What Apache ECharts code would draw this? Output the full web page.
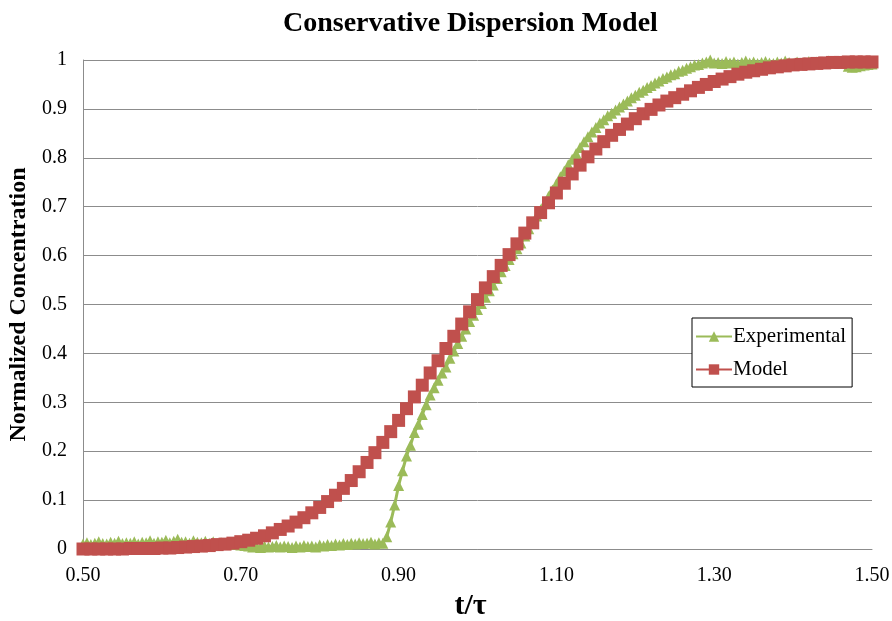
<!DOCTYPE html>
<html>
<head>
<meta charset="utf-8">
<script src="https://cdn.jsdelivr.net/npm/echarts@6/dist/echarts.min.js"></script>
<style>
html,body{margin:0;padding:0;background:#fff;}
#chart{width:892px;height:621px;}
</style>
</head>
<body>
<div id="chart"></div>
<script>
var titleText = 'Conservative Dispersion Model';
var xName = 't/\u03c4';
var yName = 'Normalized Concentration';
var seriesNames = ['Experimental', 'Model'];
var xTicks = [0.50, 0.70, 0.90, 1.10, 1.30, 1.50];
var yTicks = [0, 0.1, 0.2, 0.3, 0.4, 0.5, 0.6, 0.7, 0.8, 0.9, 1];

var modelTime = [
0.50,0.51,0.52,0.53,0.54,0.55,0.56,0.57,0.58,0.59,
0.60,0.61,0.62,0.63,0.64,0.65,0.66,0.67,0.68,0.69,
0.70,0.71,0.72,0.73,0.74,0.75,0.76,0.77,0.78,0.79,
0.80,0.81,0.82,0.83,0.84,0.85,0.86,0.87,0.88,0.89,
0.90,0.91,0.92,0.93,0.94,0.95,0.96,0.97,0.98,0.99,
1.00,1.01,1.02,1.03,1.04,1.05,1.06,1.07,1.08,1.09,
1.10,1.11,1.12,1.13,1.14,1.15,1.16,1.17,1.18,1.19,
1.20,1.21,1.22,1.23,1.24,1.25,1.26,1.27,1.28,1.29,
1.30,1.31,1.32,1.33,1.34,1.35,1.36,1.37,1.38,1.39,
1.40,1.41,1.42,1.43,1.44,1.45,1.46,1.47,1.48,1.49,
1.50];
var modelConc = [
0.000,0.000,0.000,0.000,0.000,0.000,0.001,0.001,0.001,0.001,
0.002,0.002,0.003,0.004,0.005,0.006,0.007,0.009,0.010,0.012,
0.015,0.018,0.022,0.027,0.033,0.040,0.047,0.055,0.064,0.074,
0.085,0.097,0.110,0.124,0.140,0.158,0.177,0.197,0.218,0.240,
0.263,0.287,0.311,0.335,0.360,0.385,0.410,0.435,0.460,0.485,
0.510,0.534,0.557,0.580,0.602,0.624,0.646,0.667,0.688,0.708,
0.728,0.748,0.767,0.785,0.802,0.818,0.833,0.846,0.858,0.869,
0.880,0.890,0.899,0.908,0.916,0.923,0.930,0.937,0.944,0.950,
0.956,0.961,0.966,0.971,0.975,0.978,0.981,0.984,0.986,0.988,
0.990,0.991,0.992,0.993,0.994,0.995,0.995,0.996,0.996,0.996,
0.996];

var expTime = [
0.500,0.505,0.510,0.515,0.520,0.525,0.530,0.535,0.540,0.545,
0.550,0.555,0.560,0.565,0.570,0.575,0.580,0.585,0.590,0.595,
0.600,0.605,0.610,0.615,0.620,0.625,0.630,0.635,0.640,0.645,
0.650,0.655,0.660,0.665,0.670,0.675,0.680,0.685,0.690,0.695,
0.700,0.705,0.710,0.715,0.720,0.725,0.730,0.735,0.740,0.745,
0.750,0.755,0.760,0.765,0.770,0.775,0.780,0.785,0.790,0.795,
0.800,0.805,0.810,0.815,0.820,0.825,0.830,0.835,0.840,0.845,
0.850,0.855,0.860,0.865,0.870,0.875,0.880,0.885,0.890,0.895,
0.900,0.905,0.910,0.915,0.920,0.925,0.930,0.935,0.940,0.945,
0.950,0.955,0.960,0.965,0.970,0.975,0.980,0.985,0.990,0.995,
1.000,1.005,1.010,1.015,1.020,1.025,1.030,1.035,1.040,1.045,
1.050,1.055,1.060,1.065,1.070,1.075,1.080,1.085,1.090,1.095,
1.100,1.105,1.110,1.115,1.120,1.125,1.130,1.135,1.140,1.145,
1.150,1.155,1.160,1.165,1.170,1.175,1.180,1.185,1.190,1.195,
1.200,1.205,1.210,1.215,1.220,1.225,1.230,1.235,1.240,1.245,
1.250,1.255,1.260,1.265,1.270,1.275,1.280,1.285,1.290,1.295,
1.300,1.305,1.310,1.315,1.320,1.325,1.330,1.335,1.340,1.345,
1.350,1.355,1.360,1.365,1.370,1.375,1.380,1.385,1.390,1.395,
1.400,1.405,1.410,1.415,1.420,1.425,1.430,1.435,1.440,1.445,
1.450,1.455,1.460,1.465,1.470,1.475,1.480,1.485,1.490,1.495,
1.500];
var expConc = [
0.010,0.013,0.009,0.012,0.015,0.011,0.010,0.014,0.012,0.016,
0.011,0.013,0.012,0.015,0.010,0.014,0.013,0.017,0.012,0.015,
0.014,0.018,0.013,0.016,0.020,0.014,0.015,0.012,0.017,0.014,
0.013,0.016,0.012,0.015,0.011,0.013,0.010,0.012,0.009,0.011,
0.008,0.007,0.006,0.004,0.005,0.003,0.006,0.004,0.005,0.007,
0.004,0.006,0.005,0.003,0.006,0.004,0.007,0.005,0.006,0.004,
0.008,0.006,0.009,0.007,0.010,0.008,0.011,0.009,0.012,0.010,
0.013,0.011,0.012,0.014,0.010,0.013,0.012,0.025,0.055,0.090,
0.130,0.160,0.190,0.212,0.238,0.255,0.275,0.295,0.315,0.330,
0.345,0.360,0.372,0.390,0.405,0.420,0.435,0.450,0.465,0.478,
0.490,0.502,0.515,0.528,0.540,0.553,0.567,0.580,0.592,0.604,
0.614,0.626,0.640,0.655,0.668,0.681,0.694,0.707,0.721,0.734,
0.747,0.761,0.773,0.786,0.797,0.809,0.821,0.833,0.843,0.853,
0.862,0.871,0.878,0.886,0.891,0.898,0.904,0.910,0.916,0.923,
0.928,0.934,0.938,0.944,0.948,0.953,0.957,0.962,0.965,0.970,
0.972,0.977,0.979,0.983,0.986,0.990,0.991,0.994,0.996,1.000,
0.994,0.995,0.993,0.997,0.994,0.996,0.992,0.995,0.998,0.994,
0.996,0.993,0.995,0.997,0.994,0.993,0.996,0.994,0.998,0.995,
0.993,0.996,0.994,0.995,0.997,0.993,0.996,0.994,0.995,0.998,
0.994,0.996,0.993,0.995,0.987,0.985,0.986,0.988,0.990,0.991,
0.992];

function pairs(xs, ys) {
  var out = [];
  for (var i = 0; i < xs.length; i++) out.push([xs[i], ys[i]]);
  return out;
}

var green = '#9BBB59';
var red = '#C0504D';
var gridGray = '#8C8C8C';
var serif = '"Liberation Serif", "Times New Roman", serif';

var chart = echarts.init(document.getElementById('chart'), null, {renderer: 'canvas'});
chart.setOption({
  animation: false,
  backgroundColor: '#fff',
  title: {
    text: titleText,
    left: 278,
    top: 5,
    textStyle: {fontFamily: serif, fontWeight: 'bold', fontSize: 28, color: '#000'}
  },
  grid: {left: 83, right: 20, top: 60, bottom: 72, containLabel: false, outerBoundsMode: 'none'},
  legend: {
    orient: 'vertical',
    left: 692,
    top: 318,
    backgroundColor: '#fff',
    borderColor: '#000',
    borderWidth: 1,
    borderRadius: 0,
    padding: [8, 6, 7, 3],
    itemWidth: 36,
    itemHeight: 13,
    itemGap: 12,
    textStyle: {fontFamily: serif, fontSize: 21, color: '#000', padding: [0, 0, 0, -4]},
    data: seriesNames
  },
  xAxis: {
    type: 'value',
    min: 0.5,
    max: 1.5,
    name: xName,
    nameLocation: 'middle',
    nameGap: 40,
    nameTextStyle: {fontFamily: serif, fontWeight: 'bold', fontSize: 30, color: '#000', padding: [0, 14, 0, 0]},
    axisLine: {show: true, onZero: false, lineStyle: {color: gridGray, width: 1}},
    axisTick: {show: false, customValues: xTicks},
    splitLine: {show: false},
    axisLabel: {
      customValues: xTicks,
      margin: 17,
      fontFamily: serif, fontSize: 20, color: '#000',
      formatter: function (v) { return v.toFixed(2); }
    }
  },
  yAxis: {
    type: 'value',
    min: 0,
    max: 1,
    interval: 0.1,
    name: yName,
    nameLocation: 'middle',
    nameGap: 49,
    nameTextStyle: {fontFamily: serif, fontWeight: 'bold', fontSize: 24, color: '#000'},
    axisLine: {show: true, lineStyle: {color: gridGray, width: 1}},
    axisTick: {show: false},
    splitLine: {show: true, lineStyle: {color: gridGray, width: 1}},
    axisLabel: {
      margin: 16,
      fontFamily: serif, fontSize: 20, color: '#000',
      formatter: function (v) {
        for (var i = 0; i < yTicks.length; i++) {
          if (Math.abs(yTicks[i] - v) < 1e-6) return String(yTicks[i]);
        }
        return '';
      }
    }
  },
  series: [
    {
      name: seriesNames[0],
      type: 'line',
      data: pairs(expTime, expConc),
      symbol: 'triangle',
      symbolSize: 11,
      showAllSymbol: true,
      itemStyle: {color: green},
      lineStyle: {color: green, width: 3},
      z: 2
    },
    {
      name: seriesNames[1],
      type: 'line',
      data: pairs(modelTime, modelConc),
      symbol: 'rect',
      symbolSize: 13,
      showAllSymbol: true,
      itemStyle: {color: red},
      lineStyle: {color: red, width: 3},
      z: 3
    }
  ]
});
</script>
</body>
</html>
